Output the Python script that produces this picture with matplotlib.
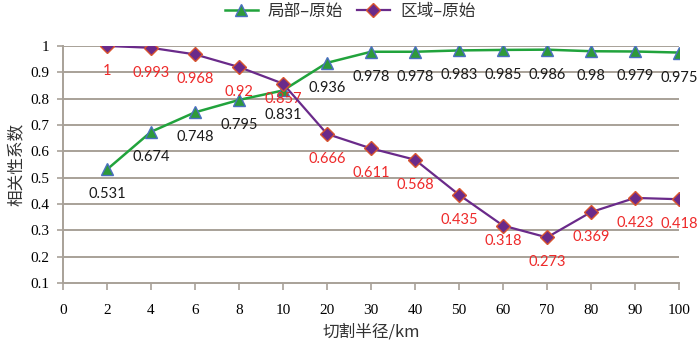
import matplotlib
matplotlib.use("Agg")
import matplotlib.pyplot as plt

# Cutting radius categories (km) and correlation coefficients
radius_labels = ["0", "2", "4", "6", "8", "10", "20", "30", "40", "50", "60", "70", "80", "90", "100"]
local_raw = [0.531, 0.674, 0.748, 0.795, 0.831, 0.936, 0.978, 0.978, 0.983, 0.985, 0.986, 0.98, 0.979, 0.975]
region_raw = [1, 0.993, 0.968, 0.92, 0.857, 0.666, 0.611, 0.568, 0.435, 0.318, 0.273, 0.369, 0.423, 0.418]
y_ticks = [0.1, 0.2, 0.3, 0.4, 0.5, 0.6, 0.7, 0.8, 0.9, 1.0]
y_tick_labels = ["0.1", "0.2", "0.3", "0.4", "0.5", "0.6", "0.7", "0.8", "0.9", "1"]

cjk = ["Noto Sans CJK SC", "DejaVu Sans"]
grid_color = "#a8a198"

fig = plt.figure(figsize=(7.0, 3.43), dpi=100)
ax = fig.add_axes([0.09, 0.175, 0.88, 0.691])

xs = list(range(1, len(local_raw) + 1))

ax.plot(xs, local_raw, color="#21a33c", lw=1.8, marker="^", markersize=9,
        markerfacecolor="#2e9a3a", markeredgecolor="#4a6fc0", markeredgewidth=1.0,
        label="局部–原始", zorder=3)
ax.plot(xs, region_raw, color="#6a2a8a", lw=1.6, marker="D", markersize=7,
        markerfacecolor="#6a2a8a", markeredgecolor="#d9552f", markeredgewidth=1.0,
        label="区域–原始", zorder=4)

label_font = dict(family="Lato", fontsize=10.5, ha="center", va="center")
default_offset = -18
region_offsets = {4: -11, 9: -11}

for i, (x, v) in enumerate(zip(xs, local_raw)):
    ax.annotate(f"{v:g}", (x, v), xytext=(0, default_offset), textcoords="offset points",
                color="#1a1a1a", **label_font)
for i, (x, v) in enumerate(zip(xs, region_raw)):
    ax.annotate(f"{v:g}", (x, v), xytext=(0, region_offsets.get(i, default_offset)),
                textcoords="offset points", color="#ee2a2a", **label_font)

ax.set_xlim(0, len(radius_labels) - 1)
ax.set_ylim(0.1, 1.0)
ax.set_xticks(range(len(radius_labels)))
ax.set_xticklabels(radius_labels, family="Liberation Serif", fontsize=11)
ax.set_yticks(y_ticks)
ax.set_yticklabels(y_tick_labels, family="Liberation Serif", fontsize=11)

for yv in y_ticks[1:]:
    ax.axhline(yv, color=grid_color, lw=1.4, zorder=1)

for side in ("top", "right"):
    ax.spines[side].set_visible(False)
for side in ("left", "bottom"):
    ax.spines[side].set_color(grid_color)
    ax.spines[side].set_linewidth(1.4)

ax.tick_params(axis="x", direction="out", length=5, width=1.2, color=grid_color, pad=10)
ax.tick_params(axis="y", direction="out", length=4, width=1.2, color=grid_color, pad=6)

ax.set_ylabel("相关性系数", family=cjk, fontsize=12, color="#333333", labelpad=4)
ax.set_xlabel("切割半径/km", family=cjk, fontsize=12, color="#333333", labelpad=5)

leg = fig.legend(loc="upper center", bbox_to_anchor=(0.5, 1.035), ncol=2, frameon=False,
                 prop={"family": cjk, "size": 12}, handlelength=2.0, columnspacing=0.8,
                 handletextpad=0.6)
for t in leg.get_texts():
    t.set_color("#333333")

fig.savefig("out.png", dpi=100)
